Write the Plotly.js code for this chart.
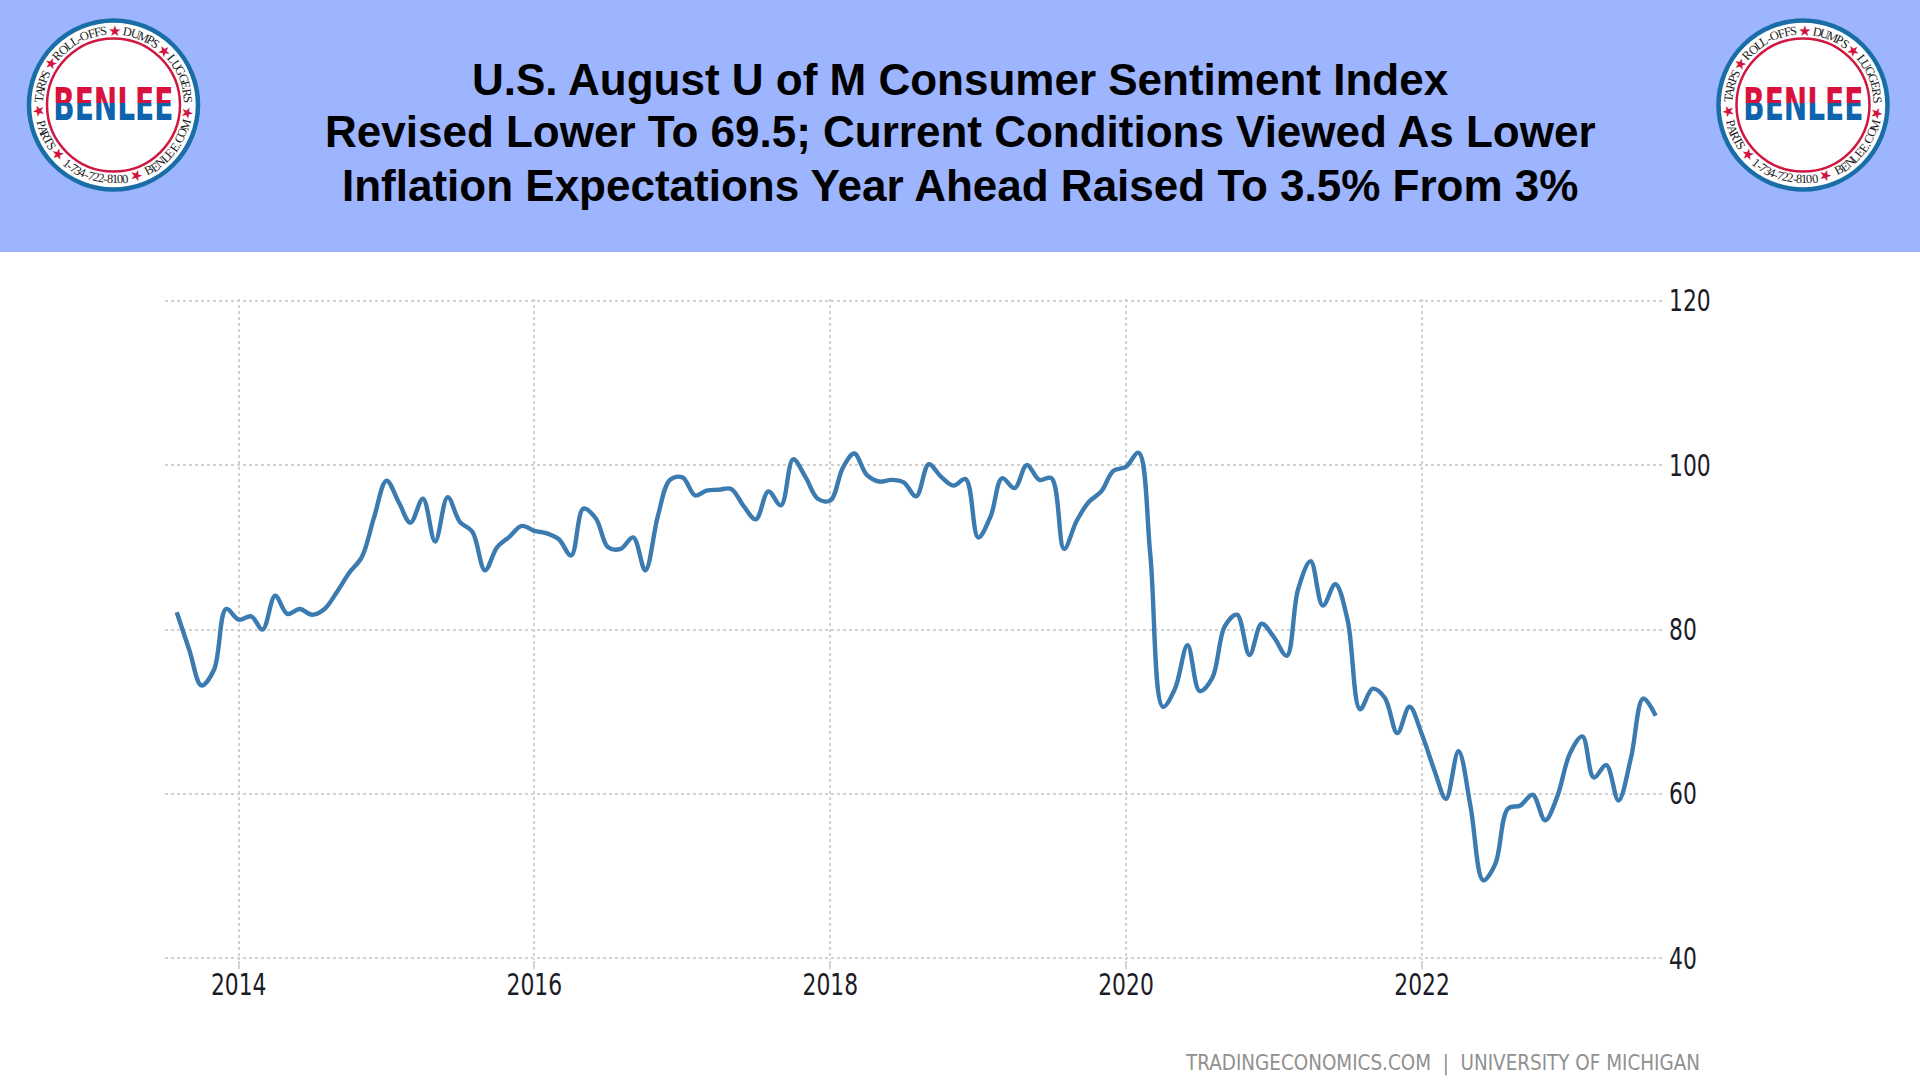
<!DOCTYPE html>
<html><head><meta charset="utf-8">
<script src="https://cdn.plot.ly/plotly-3.0.1.min.js"></script>
<style>html,body{margin:0;padding:0;background:#fff;overflow:hidden}#c{width:1920px;height:1081px}</style>
</head><body><div id="c"></div>
<script>
const titleLines = ["U.S. August U of M Consumer Sentiment Index","Revised Lower To 69.5; Current Conditions Viewed As Lower","Inflation Expectations Year Ahead Raised To 3.5% From 3%"];
const sourceText = "TRADINGECONOMICS.COM  |  UNIVERSITY OF MICHIGAN";
const months = [
"2013-08","2013-09","2013-10","2013-11","2013-12",
"2014-01","2014-02","2014-03","2014-04","2014-05","2014-06","2014-07","2014-08","2014-09","2014-10","2014-11","2014-12",
"2015-01","2015-02","2015-03","2015-04","2015-05","2015-06","2015-07","2015-08","2015-09","2015-10","2015-11","2015-12",
"2016-01","2016-02","2016-03","2016-04","2016-05","2016-06","2016-07","2016-08","2016-09","2016-10","2016-11","2016-12",
"2017-01","2017-02","2017-03","2017-04","2017-05","2017-06","2017-07","2017-08","2017-09","2017-10","2017-11","2017-12",
"2018-01","2018-02","2018-03","2018-04","2018-05","2018-06","2018-07","2018-08","2018-09","2018-10","2018-11","2018-12",
"2019-01","2019-02","2019-03","2019-04","2019-05","2019-06","2019-07","2019-08","2019-09","2019-10","2019-11","2019-12",
"2020-01","2020-02","2020-03","2020-04","2020-05","2020-06","2020-07","2020-08","2020-09","2020-10","2020-11","2020-12",
"2021-01","2021-02","2021-03","2021-04","2021-05","2021-06","2021-07","2021-08","2021-09","2021-10","2021-11","2021-12",
"2022-01","2022-02","2022-03","2022-04","2022-05","2022-06","2022-07","2022-08","2022-09","2022-10","2022-11","2022-12",
"2023-01","2023-02","2023-03","2023-04","2023-05","2023-06","2023-07","2023-08"];
const sentiment = [
82.1,77.5,73.2,75.1,82.5,
81.2,81.6,80.0,84.1,81.9,82.5,81.8,82.5,84.6,86.9,88.8,93.6,
98.1,95.4,93.0,95.9,90.7,96.1,93.1,91.9,87.2,90.0,91.3,92.6,
92.0,91.7,91.0,89.0,94.7,93.5,90.0,89.8,91.2,87.2,93.8,98.2,
98.5,96.3,96.9,97.0,97.1,95.0,93.4,96.8,95.1,100.7,98.5,95.9,
95.7,99.7,101.4,98.8,98.0,98.2,97.9,96.2,100.1,98.6,97.5,98.3,
91.2,93.8,98.4,97.2,100.0,98.2,98.4,89.8,93.2,95.5,96.8,99.3,
99.8,101.5,89.1,70.6,72.8,78.1,72.5,74.1,80.4,81.8,76.9,80.7,
79.0,76.8,84.9,88.3,82.9,85.5,81.2,70.3,72.8,71.7,67.4,70.6,
67.2,62.8,59.4,65.2,58.4,49.5,51.5,58.2,58.6,59.9,56.8,59.7,
64.9,67.0,62.0,63.5,59.2,64.4,71.6,69.5];
const yTicks = [40,60,80,100,120];
const logoWord = "BENLEE";
const logoArcs = [
 {t:"ROLL-OFFS",c:332,s:46,up:true},{t:"DUMPS",c:22.5,s:29,up:true},{t:"LUGGERS",c:69,s:39,up:true},
 {t:"BENLEE.COM",c:128,s:52,up:false},{t:"1-734-722-8100",c:195,s:52,up:false},{t:"PARTS",c:246,s:23,up:false},{t:"TARPS",c:285,s:24,up:true}];
const logoStars = [1,43,96,162,228,265,303];

const W=1920,H=1081,L=165,R=1663,T=299,B=960;
const px=x=>(x-L)/(R-L), py=y=>(B-y)/(B-T);
const shapes=[{type:'rect',xref:'paper',yref:'paper',x0:px(0),x1:px(W),y0:py(252),y1:py(-2),fillcolor:'#9db4fe',line:{width:0},layer:'below'}];
const ann=[];
function circle(cx,cy,r,fill,lc,lw){shapes.push({type:'circle',xref:'paper',yref:'paper',x0:px(cx-r),x1:px(cx+r),y0:py(cy+r),y1:py(cy-r),fillcolor:fill,line:{color:lc,width:lw},layer:'below'});}
const charW=c=>/[0-9]/.test(c)?0.5:c==='-'?0.333:c==='.'?0.25:/[MO]/.test(c)?0.8:/[LFPST]/.test(c)?0.58:0.68;
function logo(cx,cy){
 circle(cx,cy,84.5,'#ffffff','#1a6ea8',4.5);
 circle(cx,cy,66.5,'#ffffff','#cf1741',2.5);
 const r=74.5;
 const put=(t,a,rot,size,color,fam)=>ann.push({xref:'paper',yref:'paper',x:px(cx+r*Math.sin(a*Math.PI/180)),y:py(cy-r*Math.cos(a*Math.PI/180)),text:t,textangle:rot,showarrow:false,xanchor:'center',yanchor:'middle',font:{family:fam,size:size,color:color},borderpad:0});
 logoArcs.forEach(g=>{
  const chars=[...g.t],tot=chars.reduce((s,c)=>s+charW(c),0);let acc=0;
  chars.forEach(c=>{const w=charW(c),f=(acc+w/2)/tot-0.5;acc+=w;
   const a=g.up?g.c+f*g.s:g.c-f*g.s;
   put(c,a,g.up?a:a-180,12.5,'#1a1a1a','Liberation Serif');});
 });
 logoStars.forEach(a=>put('★',a,a,15,'#d0143f','DejaVu Sans'));
 ann.push({xref:'paper',yref:'paper',x:px(cx),y:py(104.5),text:logoWord,showarrow:false,xanchor:'center',yanchor:'middle',font:{family:'DejaVu Sans',size:44,weight:700,color:'#0f62ac'}});
}
logo(113.5,105);logo(1803,105);
const titleFont={family:'Liberation Sans',size:44,weight:700,color:'#000'};
[[1,132],[2,185]].forEach(p=>ann.push({xref:'paper',yref:'paper',x:px(960),y:py(p[1]),text:titleLines[p[0]],showarrow:false,xanchor:'center',yanchor:'middle',font:titleFont}));
ann.push({xref:'paper',yref:'paper',x:px(1442.5),y:py(1063),text:sourceText,showarrow:false,xanchor:'center',yanchor:'middle',font:{family:'DejaVu Sans',size:21,color:'#909090'}});

const trace={type:'scatter',mode:'lines',x:months,y:sentiment,line:{color:'#3b7bb0',width:4.4,shape:'spline',smoothing:1.0},hoverinfo:'x+y'};
const tickFont={family:'DejaVu Sans',size:30,color:'#1c1c28'};
const grid={showgrid:true,gridcolor:'#d2d2d2',gridwidth:2,griddash:'dot',zeroline:false,showline:false};
const layout={width:W,height:H,paper_bgcolor:'#fff',plot_bgcolor:'rgba(0,0,0,0)',showlegend:false,
 margin:{l:L,r:W-R,t:T,b:H-B,pad:0},
 title:{text:titleLines[0],font:titleFont,x:0.5,xref:'container',xanchor:'center',y:1-80/H,yref:'container',yanchor:'middle'},
 xaxis:Object.assign({type:'date',range:['2013-07-03','2023-08-19'],tick0:'2014-01-01',dtick:'M24',tickformat:'%Y',tickfont:tickFont,ticks:'outside',ticklen:8,tickcolor:'#d2d2d2',tickwidth:1.6,ticklabelstandoff:-10},grid),
 yaxis:Object.assign({side:'right',range:[39.8,120.2],tickvals:yTicks,tickfont:tickFont,ticks:'',ticklabelstandoff:5},grid),
 shapes:shapes,annotations:ann};
Plotly.newPlot('c',[trace],layout,{displayModeBar:false,responsive:false}).then(()=>{
 const gd=document.getElementById('c'),svg=gd.querySelector('svg.main-svg');
 const ns='http://www.w3.org/2000/svg';
 const defs=svg.querySelector('defs');
 const g=document.createElementNS(ns,'linearGradient');g.setAttribute('id','benleeTwoTone');g.setAttribute('x1','0');g.setAttribute('y1','0');g.setAttribute('x2','0');g.setAttribute('y2','1');
 [['0','#d8123c'],['0.47','#d8123c'],['0.47','#0f62ac'],['1','#0f62ac']].forEach(s=>{const e=document.createElementNS(ns,'stop');e.setAttribute('offset',s[0]);e.setAttribute('stop-color',s[1]);g.appendChild(e);});
 defs.appendChild(g);
 const squeeze=(t,len)=>{t.setAttribute('textLength',String(len));t.setAttribute('lengthAdjust','spacingAndGlyphs');};
 gd.querySelectorAll('.annotation-text').forEach(t=>{
  if(t.textContent===logoWord){t.style.fill='url(#benleeTwoTone)';squeeze(t,120);}
  if(t.textContent===sourceText){squeeze(t,514);}
 });
 gd.querySelectorAll('.xtick text, .ytick text').forEach(t=>squeeze(t,t.textContent.length*13.9));
});
</script></body></html>
